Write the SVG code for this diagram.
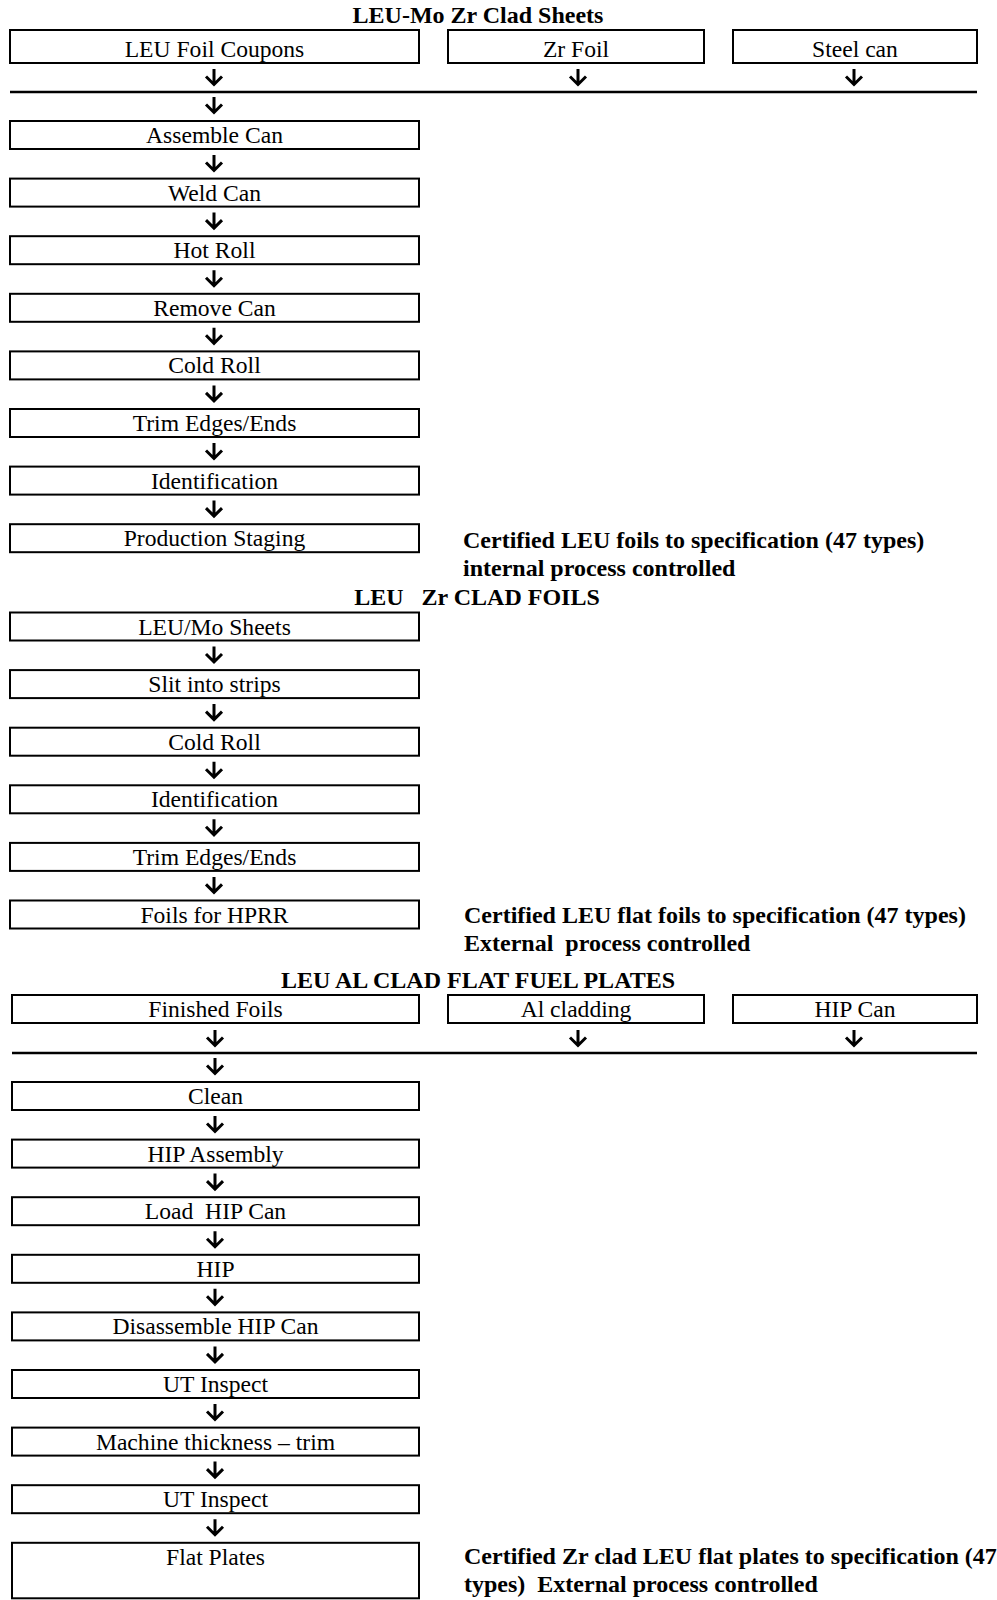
<svg xmlns="http://www.w3.org/2000/svg" width="997" height="1600" viewBox="0 0 997 1600">
<style>
text{font-family:"Liberation Serif","Times New Roman",serif;white-space:pre;fill:#000}
.t{font-size:23.6px;text-anchor:middle}
.h{font-size:24px;font-weight:bold;text-anchor:middle}
.c{font-size:24px;font-weight:bold}
.b{fill:#fff;stroke:#000;stroke-width:2}
.a{fill:none;stroke:#000;stroke-width:3;stroke-linejoin:miter}
.l{stroke:#000;stroke-width:2.5}
</style>
<rect width="997" height="1600" fill="#fff"/>
<defs>
<path id="arr" class="a" d="M0,0 V15.5 M-8,7.5 L0,15.5 L8,7.5"/>
</defs>

<!-- Section 1 -->
<text class="h" x="478" y="23">LEU-Mo Zr Clad Sheets</text>
<g id="leu-foil-coupons"><rect class="b" x="10" y="30" width="409" height="33"/><text class="t" x="214.5" y="57">LEU Foil Coupons</text></g>
<g id="zr-foil"><rect class="b" x="448" y="30" width="256" height="33"/><text class="t" x="576" y="57">Zr Foil</text></g>
<g id="steel-can"><rect class="b" x="733" y="30" width="244" height="33"/><text class="t" x="855" y="57">Steel can</text></g>
<g id="assemble-can"><rect class="b" x="10" y="121" width="409" height="28"/><text class="t" x="214.5" y="143">Assemble Can</text></g>
<g id="weld-can"><rect class="b" x="10" y="178.6" width="409" height="28"/><text class="t" x="214.5" y="200.6">Weld Can</text></g>
<g id="hot-roll"><rect class="b" x="10" y="236.2" width="409" height="28"/><text class="t" x="214.5" y="258.2">Hot Roll</text></g>
<g id="remove-can"><rect class="b" x="10" y="293.8" width="409" height="28"/><text class="t" x="214.5" y="315.8">Remove Can</text></g>
<g id="cold-roll-1"><rect class="b" x="10" y="351.4" width="409" height="28"/><text class="t" x="214.5" y="373.4">Cold Roll</text></g>
<g id="trim-1"><rect class="b" x="10" y="409" width="409" height="28"/><text class="t" x="214.5" y="431">Trim Edges/Ends</text></g>
<g id="identification-1"><rect class="b" x="10" y="466.6" width="409" height="28"/><text class="t" x="214.5" y="488.6">Identification</text></g>
<g id="production-staging"><rect class="b" x="10" y="524.2" width="409" height="28"/><text class="t" x="214.5" y="546.2">Production Staging</text></g>
<g id="note-1"><text class="c" x="463" y="548">Certified LEU foils to specification (47 types)</text><text class="c" x="463" y="576">internal process controlled</text></g>

<!-- Section 2 -->
<text class="h" x="477" y="605">LEU   Zr CLAD FOILS</text>
<g id="leu-mo-sheets"><rect class="b" x="10" y="612.5" width="409" height="28"/><text class="t" x="214.5" y="634.5">LEU/Mo Sheets</text></g>
<g id="slit"><rect class="b" x="10" y="670.1" width="409" height="28"/><text class="t" x="214.5" y="692.1">Slit into strips</text></g>
<g id="cold-roll-2"><rect class="b" x="10" y="727.7" width="409" height="28"/><text class="t" x="214.5" y="749.7">Cold Roll</text></g>
<g id="identification-2"><rect class="b" x="10" y="785.3" width="409" height="28"/><text class="t" x="214.5" y="807.3">Identification</text></g>
<g id="trim-2"><rect class="b" x="10" y="842.9" width="409" height="28"/><text class="t" x="214.5" y="864.9">Trim Edges/Ends</text></g>
<g id="foils-hprr"><rect class="b" x="10" y="900.5" width="409" height="28"/><text class="t" x="214.5" y="922.5">Foils for HPRR</text></g>
<g id="note-2"><text class="c" x="464" y="923">Certified LEU flat foils to specification (47 types)</text><text class="c" x="464" y="951">External  process controlled</text></g>

<!-- Section 3 -->
<text class="h" x="478" y="988">LEU AL CLAD FLAT FUEL PLATES</text>
<g id="finished-foils"><rect class="b" x="12" y="995" width="407" height="28"/><text class="t" x="215.5" y="1017">Finished Foils</text></g>
<g id="al-cladding"><rect class="b" x="448" y="995" width="256" height="28"/><text class="t" x="576" y="1017">Al cladding</text></g>
<g id="hip-can"><rect class="b" x="733" y="995" width="244" height="28"/><text class="t" x="855" y="1017">HIP Can</text></g>
<g id="clean"><rect class="b" x="12" y="1082" width="407" height="28"/><text class="t" x="215.5" y="1104">Clean</text></g>
<g id="hip-assembly"><rect class="b" x="12" y="1139.6" width="407" height="28"/><text class="t" x="215.5" y="1161.6">HIP Assembly</text></g>
<g id="load-hip-can"><rect class="b" x="12" y="1197.2" width="407" height="28"/><text class="t" x="215.5" y="1219.2">Load  HIP Can</text></g>
<g id="hip"><rect class="b" x="12" y="1254.8" width="407" height="28"/><text class="t" x="215.5" y="1276.8">HIP</text></g>
<g id="disassemble"><rect class="b" x="12" y="1312.4" width="407" height="28"/><text class="t" x="215.5" y="1334.4">Disassemble HIP Can</text></g>
<g id="ut-inspect-1"><rect class="b" x="12" y="1370" width="407" height="28"/><text class="t" x="215.5" y="1392">UT Inspect</text></g>
<g id="machine"><rect class="b" x="12" y="1427.6" width="407" height="28"/><text class="t" x="215.5" y="1449.6">Machine thickness – trim</text></g>
<g id="ut-inspect-2"><rect class="b" x="12" y="1485.2" width="407" height="28"/><text class="t" x="215.5" y="1507.2">UT Inspect</text></g>
<g id="flat-plates"><rect class="b" x="12" y="1542.8" width="407" height="55.5"/><text class="t" x="215.5" y="1564.8">Flat Plates</text></g>
<g id="note-3"><text class="c" x="464" y="1564">Certified Zr clad LEU flat plates to specification (47</text><text class="c" x="464" y="1592">types)  External process controlled</text></g>

<g id="connectors">
<line class="l" x1="10" y1="92" x2="977" y2="92"/>
<line class="l" x1="12" y1="1053" x2="977" y2="1053"/>
<use href="#arr" x="214" y="69"/>
<use href="#arr" x="578" y="69"/>
<use href="#arr" x="854" y="69"/>
<use href="#arr" x="214" y="97"/>
<use href="#arr" x="214" y="155"/>
<use href="#arr" x="214" y="212.6"/>
<use href="#arr" x="214" y="270.2"/>
<use href="#arr" x="214" y="327.8"/>
<use href="#arr" x="214" y="385.4"/>
<use href="#arr" x="214" y="443"/>
<use href="#arr" x="214" y="500.6"/>
<use href="#arr" x="214" y="646.5"/>
<use href="#arr" x="214" y="704.1"/>
<use href="#arr" x="214" y="761.7"/>
<use href="#arr" x="214" y="819.3"/>
<use href="#arr" x="214" y="876.9"/>
<use href="#arr" x="215" y="1030"/>
<use href="#arr" x="578" y="1030"/>
<use href="#arr" x="854" y="1030"/>
<use href="#arr" x="215" y="1058"/>
<use href="#arr" x="215" y="1116"/>
<use href="#arr" x="215" y="1173.6"/>
<use href="#arr" x="215" y="1231.2"/>
<use href="#arr" x="215" y="1288.8"/>
<use href="#arr" x="215" y="1346.4"/>
<use href="#arr" x="215" y="1404"/>
<use href="#arr" x="215" y="1461.6"/>
<use href="#arr" x="215" y="1519.2"/>
</g>
</svg>
